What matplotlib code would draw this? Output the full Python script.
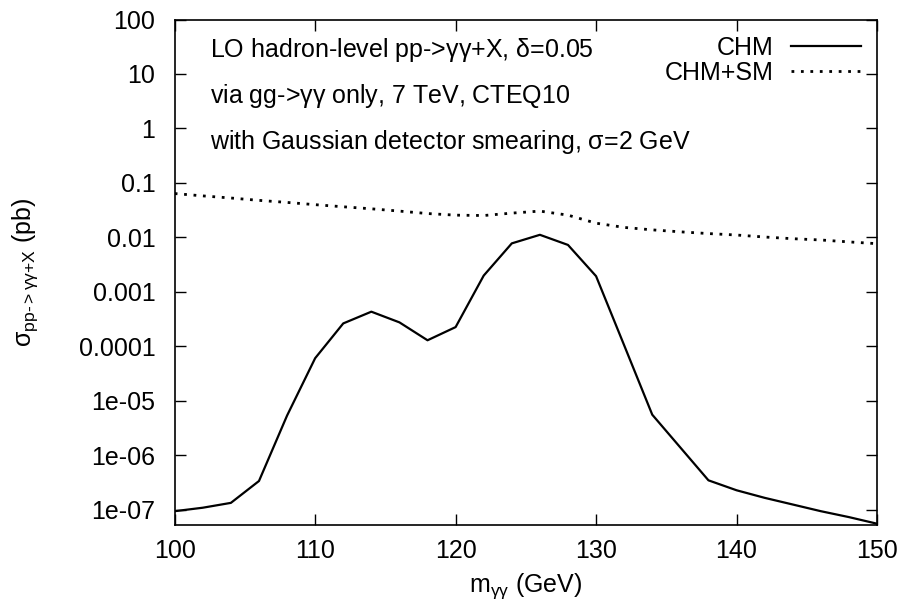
import matplotlib
matplotlib.use("Agg")
import matplotlib.pyplot as plt
from matplotlib.ticker import FixedLocator, FixedFormatter, NullLocator

plt.rcParams["font.family"] = ["Liberation Sans", "DejaVu Sans"]
plt.rcParams["mathtext.fontset"] = "custom"
plt.rcParams["mathtext.rm"] = "Liberation Sans"
plt.rcParams["mathtext.it"] = "Liberation Sans"
plt.rcParams["mathtext.bf"] = "Liberation Sans:bold"

# diphoton invariant mass (GeV)
m_gg = [100, 102, 104, 106, 108, 110, 112, 114, 116, 118, 120, 122, 124, 126,
        128, 130, 132, 134, 136, 138, 140, 142, 144, 146, 148, 150]

# cross sections (pb)
sigma_chm = [9.5e-8, 1.1e-7, 1.35e-7, 3.4e-7, 5.4e-6, 6.1e-5, 2.65e-4, 4.35e-4,
             2.77e-4, 1.3e-4, 2.27e-4, 2.0e-3, 7.8e-3, 1.12e-2, 7.3e-3, 1.95e-3,
             1.05e-4, 5.6e-6, 1.4e-6, 3.5e-7, 2.3e-7, 1.67e-7, 1.26e-7, 9.5e-8,
             7.4e-8, 5.6e-8]
sigma_chm_sm = [0.064, 0.058, 0.053, 0.048, 0.044, 0.040, 0.0366, 0.0336, 0.0305,
                0.0275, 0.0257, 0.0253, 0.028, 0.0305, 0.0257, 0.0183, 0.0153,
                0.0138, 0.0127, 0.0118, 0.0111, 0.0102, 0.0095, 0.009, 0.0083,
                0.0077]

x_ticks = [100, 110, 120, 130, 140, 150]
y_ticks = [1e2, 1e1, 1, 1e-1, 1e-2, 1e-3, 1e-4, 1e-5, 1e-6, 1e-7]
y_tick_labels = ["100", "10", "1", "0.1", "0.01", "0.001", "0.0001",
                 "1e-05", "1e-06", "1e-07"]

annotations = [
    r"LO hadron-level pp->$\mathrm{\gamma\gamma}$+X, $\mathrm{\delta}$=0.05",
    r"via gg->$\mathrm{\gamma\gamma}$ only, 7 TeV, CTEQ10",
    r"with Gaussian detector smearing, $\mathrm{\sigma}$=2 GeV",
]

FS = 18
W, H = 904, 604

fig = plt.figure(figsize=(W / 100, H / 100), dpi=100)
ax = fig.add_axes([174.7 / W, 1 - 525 / H, (877 - 174.7) / W, (525 - 19.5) / H])

ax.plot(m_gg, sigma_chm, color="black", lw=1.6, label="CHM")
ax.plot(m_gg, sigma_chm_sm, color="black", lw=2.0, linestyle=(0, (1, 2.4)),
        label="CHM+SM")

ax.set_yscale("log")
ax.set_xlim(100, 150)
ax.set_ylim(5.3e-8, 100)

ax.xaxis.set_major_locator(FixedLocator(x_ticks))
ax.yaxis.set_major_locator(FixedLocator(y_ticks))
ax.yaxis.set_major_formatter(FixedFormatter(y_tick_labels))
ax.yaxis.set_minor_locator(NullLocator())
ax.tick_params(which="both", direction="in", top=True, right=True,
               length=8, width=1, labelsize=FS)
ax.tick_params(axis="x", pad=10)
ax.tick_params(axis="y", pad=14)
for spine in ax.spines.values():
    spine.set_linewidth(1.2)

ax.set_xlabel(r"m$_{\mathrm{\gamma\gamma}}$ (GeV)", fontsize=FS, labelpad=6)
ax.set_ylabel(r"$\mathrm{\sigma}_{\mathrm{pp\text{-}{>}\gamma\gamma\text{+}X}}$ (pb)",
              fontsize=FS, labelpad=28)

# header lines, positioned in pixels from the top edge
for i, txt in enumerate(annotations):
    fig.text(210 / W, 1 - (50.5 + 46 * i) / H, txt, fontsize=FS,
             ha="left", va="center")

leg = ax.legend(loc="upper right", frameon=False, fontsize=FS, markerfirst=False,
                handlelength=2.8, handletextpad=0.7, labelspacing=0.05,
                borderaxespad=0.25, bbox_to_anchor=(1.0, 1.0))

fig.savefig("out.png", dpi=100, facecolor="white")
